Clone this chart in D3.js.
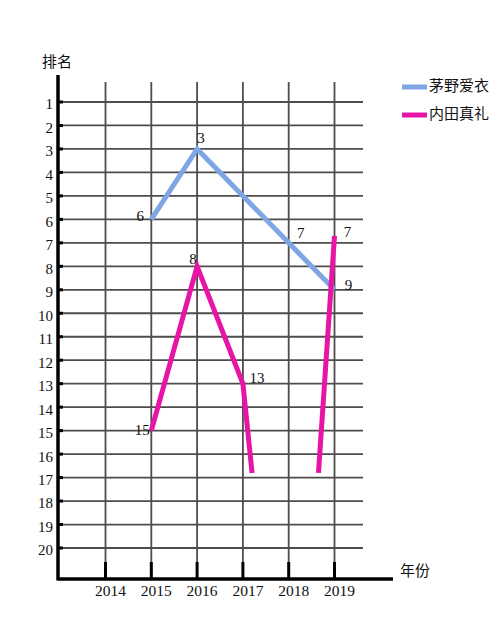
<!DOCTYPE html>
<html>
<head>
<meta charset="utf-8">
<script src="https://cdn.jsdelivr.net/npm/d3@7"></script>
<style>
  body { margin: 0; background: #fff; }
  svg text { font-family: "Liberation Serif", "DejaVu Serif", serif; fill: #111; }
</style>
</head>
<body>
<div id="chart"></div>
<script>
// years on the x axis and ranks on the y axis
var years = [2014, 2015, 2016, 2017, 2018, 2019];
var ranks = d3.range(1, 21);

// 茅野爱衣 (no point for 2017, the line goes straight through)
var kayanoYears = [2015, 2016, 2018, 2019];
var kayanoRanks = [6, 3, 7, 9];
var kayanoLabels = ["6", "3", "7", "9"];

// 内田真礼 - drops off the chart after 2017 and comes back in 2019
var uchidaYears = [2015, 2016, 2017, 2017.2, null, 2018.65, 2019];
var uchidaRanks = [15, 8, 13, 16.8, null, 16.8, 6.7];
var uchidaLabels = ["15", "8", "13", "", "", "", "7"];

var seriesNames = ["茅野爱衣", "内田真礼"];
var seriesColors = ["#7fa6e4", "#e814a6"];

var width = 500, height = 623;

var svg = d3.select("#chart")
  .append("svg")
  .attr("width", width)
  .attr("height", height);

var x = d3.scaleLinear().domain([2014, 2019]).range([105.5, 334.5]);
var y = d3.scaleLinear().domain([1, 20]).range([102, 548]);

var axisX = 58, axisY = 579;

// grid
svg.append("g").selectAll("line.h")
  .data(ranks).enter()
  .append("line")
  .attr("x1", axisX).attr("x2", 363)
  .attr("y1", function(d) { return y(d); })
  .attr("y2", function(d) { return y(d); })
  .attr("stroke", "#4d4d4d").attr("stroke-width", 1.8);

svg.append("g").selectAll("line.v")
  .data(years).enter()
  .append("line")
  .attr("x1", function(d) { return x(d); })
  .attr("x2", function(d) { return x(d); })
  .attr("y1", 82).attr("y2", axisY)
  .attr("stroke", "#4d4d4d").attr("stroke-width", 1.8);

// little ticks on the axes
svg.append("g").selectAll("line")
  .data(ranks).enter()
  .append("line")
  .attr("x1", axisX).attr("x2", axisX + 5)
  .attr("y1", function(d) { return y(d); })
  .attr("y2", function(d) { return y(d); })
  .attr("stroke", "#000").attr("stroke-width", 3);

svg.append("g").selectAll("line")
  .data(years).enter()
  .append("line")
  .attr("x1", function(d) { return x(d); })
  .attr("x2", function(d) { return x(d); })
  .attr("y1", axisY - 17).attr("y2", axisY)
  .attr("stroke", "#000").attr("stroke-width", 3);

// axes
svg.append("line")
  .attr("x1", axisX).attr("x2", axisX)
  .attr("y1", 75).attr("y2", axisY + 1.5)
  .attr("stroke", "#000").attr("stroke-width", 3.5);
svg.append("line")
  .attr("x1", axisX).attr("x2", 393)
  .attr("y1", axisY).attr("y2", axisY)
  .attr("stroke", "#000").attr("stroke-width", 3.5);

// tick labels
svg.append("g").selectAll("text")
  .data(ranks).enter()
  .append("text")
  .attr("x", 53)
  .attr("y", function(d) { return y(d) + 4; })
  .attr("text-anchor", "end")
  .attr("dominant-baseline", "middle")
  .attr("font-size", 15)
  .text(function(d) { return d; });

svg.append("g").selectAll("text")
  .data(years).enter()
  .append("text")
  .attr("x", function(d) { return x(d) + 5; })
  .attr("y", 592)
  .attr("text-anchor", "middle")
  .attr("dominant-baseline", "middle")
  .attr("font-size", 15.5)
  .text(function(d) { return d; });

svg.append("text")
  .attr("x", 42).attr("y", 63)
  .attr("dominant-baseline", "middle")
  .attr("font-size", 15)
  .style("font-family", "'Noto Sans CJK SC', sans-serif")
  .text("排名");

svg.append("text")
  .attr("x", 400).attr("y", 572)
  .attr("dominant-baseline", "middle")
  .attr("font-size", 15)
  .style("font-family", "'Noto Sans CJK SC', sans-serif")
  .text("年份");

// series lines
var line = d3.line()
  .defined(function(d) { return d[0] != null; })
  .x(function(d) { return x(d[0]); })
  .y(function(d) { return y(d[1]); });

var kayano = kayanoYears.map(function(d, i) { return [d, kayanoRanks[i], kayanoLabels[i]]; });
var uchida = uchidaYears.map(function(d, i) { return [d, uchidaRanks[i], uchidaLabels[i]]; });

svg.append("path")
  .datum(kayano)
  .attr("d", line)
  .attr("fill", "none")
  .attr("stroke", seriesColors[0])
  .attr("stroke-width", 5);

svg.append("path")
  .datum(uchida)
  .attr("d", line)
  .attr("fill", "none")
  .attr("stroke", seriesColors[1])
  .attr("stroke-width", 5);

// value labels, placed by hand like in the original
var kayanoOffsets = [[-11, -2], [4, -9], [12, -8], [14, -3]];
var uchidaOffsets = [[-9, 1], [-4, -6], [14, -4], [0, 0], [0, 0], [0, 0], [13, -2]];

kayano.forEach(function(d, i) { d.push(kayanoOffsets[i]); });
uchida.forEach(function(d, i) { d.push(uchidaOffsets[i]); });

svg.append("g").selectAll("text")
  .data(kayano.concat(uchida).filter(function(d) { return d[0] != null && d[2] !== ""; }))
  .enter()
  .append("text")
  .attr("x", function(d) { return x(d[0]) + d[3][0]; })
  .attr("y", function(d) { return y(d[1]) + d[3][1]; })
  .attr("text-anchor", "middle")
  .attr("dominant-baseline", "middle")
  .attr("font-size", 15)
  .text(function(d) { return d[2]; });

// legend
var legend = svg.append("g").selectAll("g")
  .data(seriesNames).enter()
  .append("g")
  .attr("transform", function(d, i) { return "translate(402," + (87 + i * 28) + ")"; });

legend.append("line")
  .attr("x1", 0).attr("x2", 25)
  .attr("stroke", function(d, i) { return seriesColors[i]; })
  .attr("stroke-width", 5);

legend.append("text")
  .attr("x", 27)
  .attr("dominant-baseline", "middle")
  .attr("font-size", 15)
  .style("font-family", "'Noto Sans CJK SC', sans-serif")
  .text(function(d) { return d; });
</script>
</body>
</html>
